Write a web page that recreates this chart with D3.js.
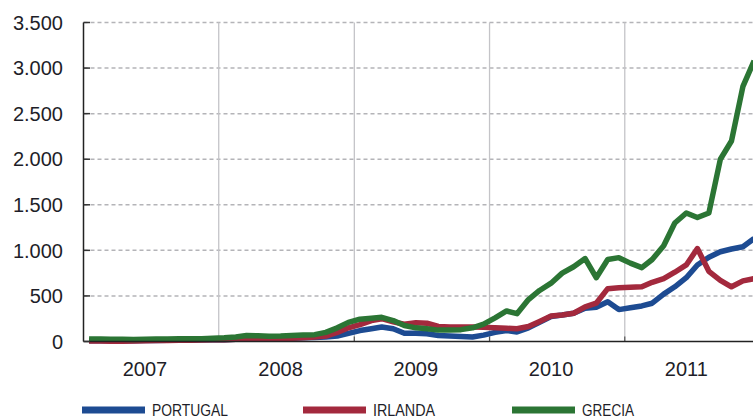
<!DOCTYPE html>
<html>
<head>
<meta charset="utf-8">
<script src="https://cdn.jsdelivr.net/npm/d3@7"></script>
<style>
  body { margin: 0; background: #fff; }
  svg { display: block; }
</style>
</head>
<body>
<svg width="753" height="419"></svg>
<script>
// monthly series, one value per month from Jan 2007 to Dec 2011
const years = [2007, 2008, 2009, 2010, 2011]
const yTicks = [0, 500, 1000, 1500, 2000, 2500, 3000, 3500]

const portugal = [
  8, 8, 7, 7, 8, 10, 12, 14, 16, 17, 18, 20,
  20, 25, 30, 28, 25, 30, 35, 40, 45, 50, 60, 90,
  120, 140, 160, 140, 90, 90, 85, 65, 60, 55, 50, 70,
  100, 120, 105, 150, 210, 275, 290, 310, 365, 375, 435, 350,
  370, 390, 420, 520, 600, 700, 840, 925, 985, 1015, 1040, 1130
]
const irlanda = [
  5, 5, 4, 4, 5, 7, 10, 12, 14, 15, 17, 20,
  20, 25, 30, 28, 25, 30, 35, 40, 50, 60, 100, 150,
  185, 230, 250, 215, 190, 205, 200, 165, 160, 160, 160, 155,
  150, 145, 140, 165, 220, 280, 290, 310, 380, 420, 580, 590,
  595, 600, 650, 690, 760, 840, 1020, 770, 670, 600, 665, 690
]
const grecia = [
  28, 27, 25, 24, 23, 25, 27, 28, 30, 30, 31, 35,
  40, 50, 65, 62, 58, 60, 65, 72, 75, 100, 150, 210,
  245, 255, 265, 230, 175, 150, 140, 125, 125, 130, 150, 190,
  260, 335, 305, 460, 560, 640, 750, 820, 910, 700, 900, 920,
  860, 810, 900, 1050, 1300, 1410, 1360, 1410, 2000, 2200, 2800, 3080
]

const seriesNames = ['PORTUGAL', 'IRLANDA', 'GRECIA']
const seriesData = [portugal, irlanda, grecia]
const colors = ['#1d4b92', '#a3293d', '#2b7534']

const svg = d3.select('svg')
const font = '"Liberation Sans", Arial, sans-serif'

const x = d3.scaleTime()
  .domain([new Date(2007, 0, 1), new Date(2012, 0, 1)])
  .range([83.5, 760])
const y = d3.scaleLinear()
  .domain([0, 3500])
  .range([341.5, 22.5])

const dates = d3.range(portugal.length).map(i => new Date(2007, i, 16))

// horizontal dashed grid
svg.append('g')
  .selectAll('line')
  .data(yTicks.slice(1))
  .join('line')
  .attr('x1', 83.5).attr('x2', 753)
  .attr('y1', d => y(d)).attr('y2', d => y(d))
  .attr('stroke', '#b4b4b8')
  .attr('stroke-width', 1.5)
  .attr('stroke-dasharray', '4,3')

// vertical year separators
const bounds = years.slice(1).map(yr => new Date(yr, 0, 1))
svg.append('g')
  .selectAll('line')
  .data(bounds)
  .join('line')
  .attr('x1', d => x(d)).attr('x2', d => x(d))
  .attr('y1', y(3500)).attr('y2', y(0))
  .attr('stroke', '#c4c4c8')
  .attr('stroke-width', 1.3)

svg.append('g')
  .selectAll('line')
  .data(bounds)
  .join('line')
  .attr('x1', d => x(d)).attr('x2', d => x(d))
  .attr('y1', y(0) - 5).attr('y2', y(0))
  .attr('stroke', '#555')
  .attr('stroke-width', 1.2)

// lines
const line = d3.line()
  .x((d, i) => x(dates[i]))
  .y(d => y(d))

svg.append('g')
  .selectAll('path')
  .data(seriesData)
  .join('path')
  .attr('d', d => line(d))
  .attr('fill', 'none')
  .attr('stroke', (_, i) => colors[i])
  .attr('stroke-width', 5.5)
  .attr('stroke-linejoin', 'round')

// axes
svg.append('line')
  .attr('x1', 83.5).attr('x2', 83.5)
  .attr('y1', y(3500)).attr('y2', y(0))
  .attr('stroke', '#222').attr('stroke-width', 1.5)
svg.append('line')
  .attr('x1', 83.5).attr('x2', 753)
  .attr('y1', y(0)).attr('y2', y(0))
  .attr('stroke', '#222').attr('stroke-width', 1.5)

svg.append('g')
  .selectAll('line')
  .data(yTicks)
  .join('line')
  .attr('x1', 83.5).attr('x2', 90)
  .attr('y1', d => y(d)).attr('y2', d => y(d))
  .attr('stroke', '#333').attr('stroke-width', 1.5)

const fmt = d3.formatLocale({decimal: ',', thousands: '.', grouping: [3], currency: ['', '']}).format(',d')

svg.append('g')
  .selectAll('text')
  .data(yTicks)
  .join('text')
  .attr('x', 63)
  .attr('y', d => y(d))
  .attr('dy', '0.36em')
  .attr('text-anchor', 'end')
  .attr('font-family', font)
  .attr('font-size', 20)
  .attr('fill', '#1e1e28')
  .text(d => fmt(d))

svg.append('g')
  .selectAll('text')
  .data(years)
  .join('text')
  .attr('x', d => x(new Date(d, 5, 16)))
  .attr('y', 376)
  .attr('text-anchor', 'middle')
  .attr('font-family', font)
  .attr('font-size', 20)
  .attr('fill', '#1e1e28')
  .text(d => d)

// legend
const legendX = [82, 303, 512]
const legendW = [76, 62, 52]
const legend = svg.append('g')
  .selectAll('g')
  .data(seriesNames)
  .join('g')
  .attr('transform', (_, i) => `translate(${legendX[i]}, 410)`)

legend.append('line')
  .attr('x1', 0).attr('x2', 63)
  .attr('stroke', (_, i) => colors[i])
  .attr('stroke-width', 7)

legend.append('text')
  .attr('x', 70)
  .attr('y', 6)
  .attr('font-family', '"Liberation Sans Narrow", "Liberation Sans", Arial, sans-serif')
  .attr('font-size', 17)
  .attr('fill', '#1e1e28')
  .attr('textLength', (_, i) => legendW[i])
  .attr('lengthAdjust', 'spacingAndGlyphs')
  .text(d => d)
</script>
</body>
</html>
